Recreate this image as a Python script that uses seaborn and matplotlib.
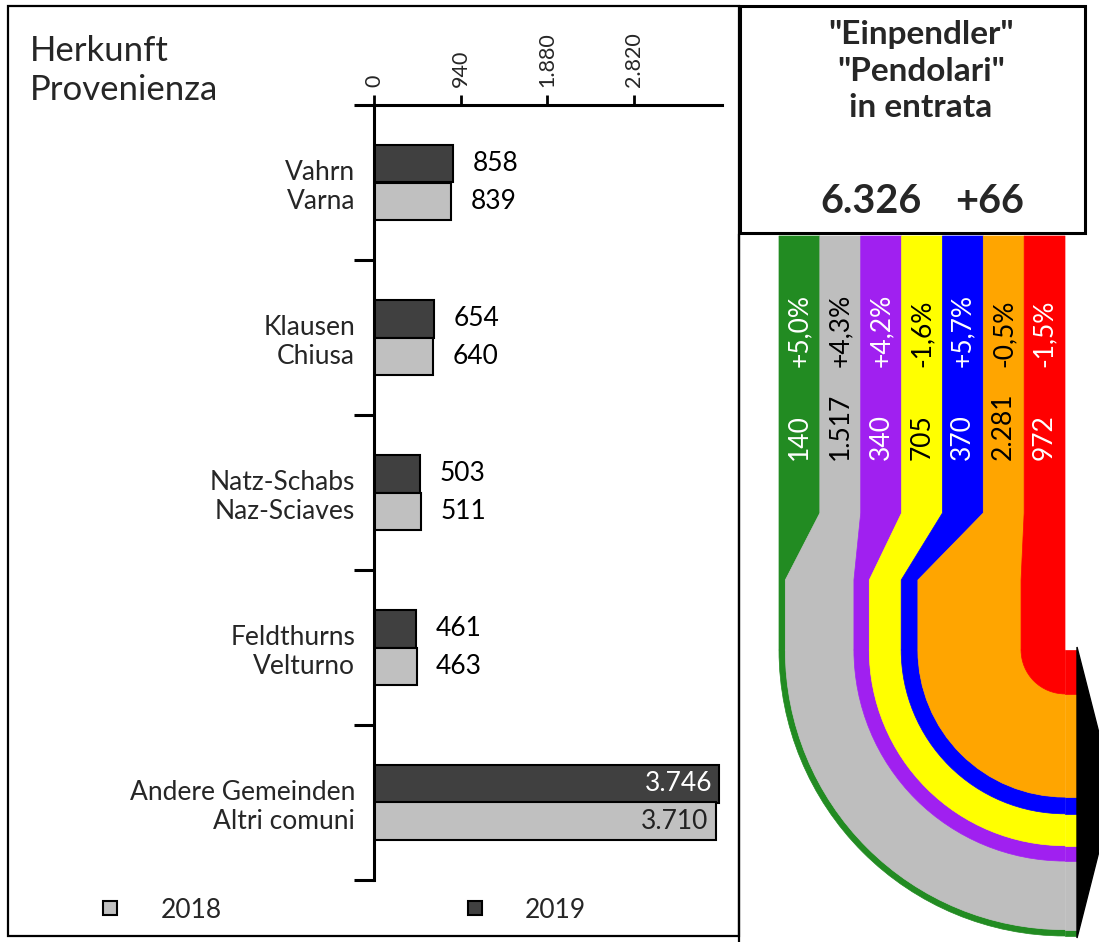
import matplotlib
matplotlib.use("Agg")
import matplotlib.pyplot as plt
import seaborn as sns
import pandas as pd
from matplotlib.patches import Rectangle, Polygon, Wedge
from matplotlib.lines import Line2D

# ---------------- data ----------------
categories = ["Vahrn\nVarna", "Klausen\nChiusa", "Natz-Schabs\nNaz-Sciaves",
              "Feldthurns\nVelturno", "Andere Gemeinden\nAltri comuni"]
values_2018 = [839, 640, 511, 463, 3710]
values_2019 = [858, 654, 503, 461, 3746]
years = ["2018", "2019"]
x_ticks = [0, 940, 1880, 2820]
x_tick_labels = ["0", "940", "1.880", "2.820"]

flow_values = [140, 1517, 340, 705, 370, 2281, 972]
flow_changes = ["+5,0%", "+4,3%", "+4,2%", "-1,6%", "+5,7%", "-0,5%", "-1,5%"]
flow_colors = ["#228B22", "#BEBEBE", "#A020F0", "#FFFF00", "#0000FF", "#FFA500", "#FF0000"]
flow_text_colors = ["white", "black", "white", "black", "white", "black", "white"]

title_lines = ['"Einpendler"', '"Pendolari"', 'in entrata']
total_value = 6326
total_change = 66
axis_title = ["Herkunft", "Provenienza"]

year_colors = {"2018": "#C0C0C0", "2019": "#404040"}


def fmt(v):
    return f"{v:,}".replace(",", ".")


# ---------------- style ----------------
sns.set_style("white")
plt.rcParams["font.family"] = ["Lato", "DejaVu Sans"]

W, H = 1099, 942
fig = plt.figure(figsize=(W / 100, H / 100), dpi=100)
fig.patch.set_facecolor("white")

# overlay axes in pixel coordinates
ov = fig.add_axes([0, 0, 1, 1], zorder=0)
ov.set_xlim(0, W)
ov.set_ylim(H, 0)
ov.axis("off")

# ---------------- bar chart ----------------
df = pd.DataFrame({
    "Herkunft": categories * 2,
    "Jahr": ["2019"] * len(categories) + ["2018"] * len(categories),
    "Wert": values_2019 + values_2018,
})

ax_left, ax_right, ax_top, ax_bottom = 374, 722, 105, 880
xmax = 3780
ax = fig.add_axes([ax_left / W, (H - ax_bottom) / H,
                   (ax_right - ax_left) / W, (ax_bottom - ax_top) / H], zorder=2)
ax.patch.set_alpha(0)

sns.barplot(data=df, y="Herkunft", x="Wert", hue="Jahr", hue_order=["2019", "2018"],
            palette=year_colors, orient="h", width=0.49, saturation=1,
            edgecolor="black", linewidth=1.5, legend=False, ax=ax)

ax.set_xlim(0, xmax)
ax.set_ylim(len(categories) - 0.5, -0.5)
ax.set_xlabel("")
ax.set_ylabel("")

ax.xaxis.tick_top()
ax.set_xticks(x_ticks, labels=x_tick_labels)
ax.tick_params(axis="x", which="major", top=True, bottom=False, direction="out",
               length=7, width=2, labelsize=15.5, labelrotation=90, pad=6, color="black")

ax.set_yticks(range(len(categories)), labels=categories)
ax.set_yticks([i - 0.5 for i in range(len(categories) + 1)], minor=True)
ax.tick_params(axis="y", which="major", left=True, length=0, pad=13.5, labelsize=19)
ax.tick_params(axis="y", which="minor", left=True, direction="out", length=14.5,
               width=2.2, color="black")
for lbl in ax.get_yticklabels():
    lbl.set_multialignment("right")

for side in ["right", "bottom"]:
    ax.spines[side].set_visible(False)
for side in ["top", "left"]:
    ax.spines[side].set_linewidth(2.2)
    ax.spines[side].set_color("black")

# value labels
for container, hue in zip(ax.containers, ["2019", "2018"]):
    for bar in container:
        v = bar.get_width()
        yc = bar.get_y() + bar.get_height() / 2
        if v > 0.8 * xmax:
            col = "white" if hue == "2019" else "#222222"
            ax.annotate(fmt(int(round(v))), (v, yc), xytext=(-5, 0), textcoords="offset points",
                        ha="right", va="center", fontsize=19, color=col)
        else:
            ax.annotate(fmt(int(round(v))), (v, yc), xytext=(14, 0), textcoords="offset points",
                        ha="left", va="center", fontsize=19, color="black")

# axis title
ov.text(30, 61, axis_title[0], fontsize=25, ha="left", va="baseline")
ov.text(30, 100, axis_title[1], fontsize=25, ha="left", va="baseline")

# legend
handles = [Line2D([], [], marker="s", ls="", markersize=10, markerfacecolor=year_colors[y],
                  markeredgecolor="black", markeredgewidth=1.5, label=y) for y in years]
fig.legend(handles=handles, ncol=2, loc="center left",
           bbox_to_anchor=(97 / W, (H - 910) / H), frameon=False, fontsize=19,
           handlelength=1, handletextpad=1.4, columnspacing=9.1,
           borderpad=0, borderaxespad=0)

# frames
ov.add_patch(Rectangle((8, 6), 731, 930, fill=False, lw=1.6, ec="black"))
ov.add_patch(Rectangle((740, 6), 345, 227, fill=False, lw=2.2, ec="black"))
ov.plot([739, 739], [234, H], color="black", lw=1.6)

# right box texts
for txt, yb in zip(title_lines, [44, 81, 117]):
    ov.text(921, yb, txt, fontsize=24, fontweight="bold", ha="center", va="baseline")
ov.text(871, 213, fmt(total_value), fontsize=28.5, fontweight="bold", ha="center", va="baseline")
ov.text(990, 213, f"+{total_change}", fontsize=28.5, fontweight="bold", ha="center", va="baseline")

# ---------------- flow diagram ----------------
x0, x1 = 779, 1065
y_top, y_b1, y_b2, y_arc = 236, 513, 580, 650
x_end = 1077
cx, cy = x1, y_arc
n = len(flow_values)
w_eq = (x1 - x0) / n
scale = (x1 - x0) / sum(flow_values)

cum = 0
for i, (v, col) in enumerate(zip(flow_values, flow_colors)):
    le = x0 + i * w_eq
    re = le + w_eq
    lp = x0 + cum * scale
    rp = lp + v * scale
    cum += v
    poly = Polygon([(le, y_top), (re, y_top), (re, y_b1), (rp, y_b2), (rp, y_arc),
                    (lp, y_arc), (lp, y_b2), (le, y_b1)], closed=True,
                   fc=col, ec=col, lw=0.5)
    ov.add_patch(poly)
    r_out = cx - lp
    r_in = max(cx - rp, 0)
    ov.add_patch(Wedge((cx, cy), r_out, 90, 180, width=r_out - r_in, fc=col, ec=col, lw=0.5))
    ov.add_patch(Rectangle((cx, cy + r_in), x_end - cx, r_out - r_in, fc=col, ec=col, lw=0.5))
    xc = le + w_eq / 2
    ov.text(xc, 367, flow_changes[i], rotation=90, ha="center", va="bottom",
            fontsize=19, color=flow_text_colors[i])
    ov.text(xc, 460, fmt(v), rotation=90, ha="center", va="bottom",
            fontsize=19, color=flow_text_colors[i])

# arrow head
ov.add_patch(Polygon([(x_end, 647), (1114, 792), (x_end, 938)], closed=True, fc="black", ec="black"))

fig.savefig("out.png", dpi=100)
